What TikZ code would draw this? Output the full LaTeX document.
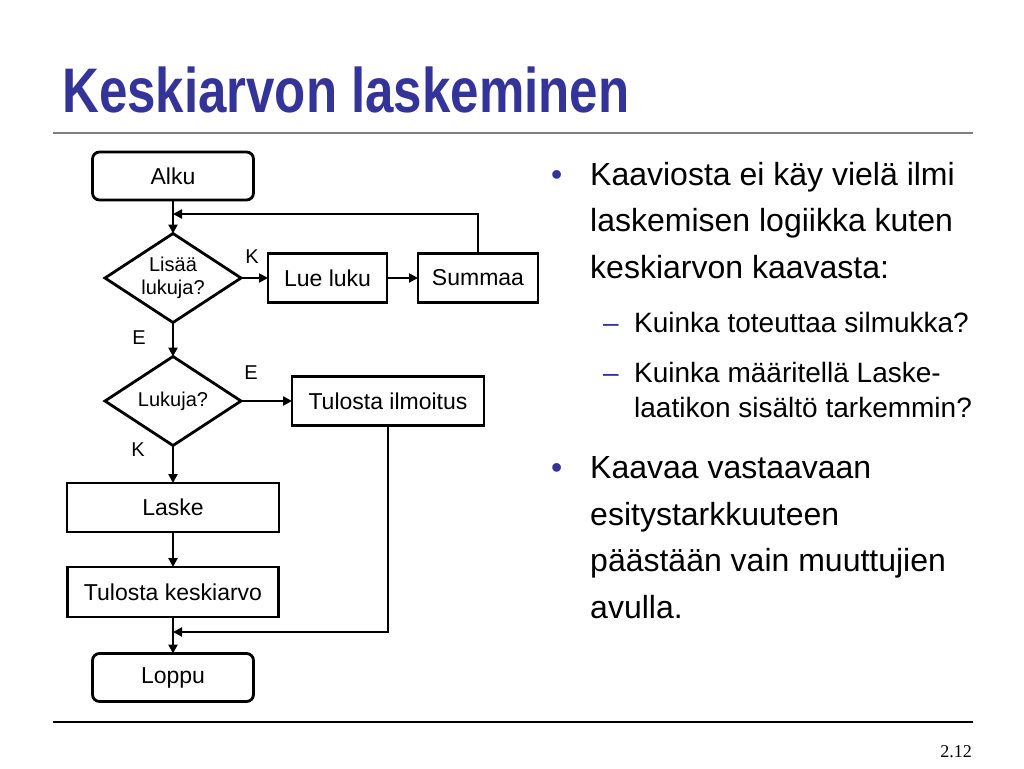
\documentclass[tikz,border=0pt]{standalone}
\usepackage{fontspec}
\setmainfont{Liberation Sans}
\newfontfamily\otsikkofont[FakeStretch=0.81]{Liberation Sans}
\newfontfamily\sivufont{Liberation Serif}
\usetikzlibrary{shapes.geometric, arrows.meta, positioning}
\definecolor{otsikkosini}{RGB}{51,51,153}
\definecolor{viivaharmaa}{RGB}{128,128,128}

\begin{document}
\begin{tikzpicture}[
    x=1pt, y=-1pt,
    terminal/.style={rectangle, draw=black, line width=2.8pt, rounded corners=7pt, minimum width=161pt, minimum height=48pt, inner sep=0pt, outer sep=0pt, font=\fontsize{23}{26}\selectfont},
    process/.style={rectangle, draw=black, line width=2.8pt, minimum height=49pt, inner sep=0pt, outer sep=0pt, font=\fontsize{23}{26}\selectfont},
    decision/.style={diamond, draw=black, line width=2.8pt, aspect=1.5, minimum width=136pt, minimum height=89pt, inner sep=0pt, outer sep=0pt, align=center, font=\fontsize{20}{23}\selectfont},
    arrow/.style={draw=black, line width=2.6pt, -{Triangle[length=9pt, width=9pt]}},
    choice/.style={inner sep=0pt, font=\fontsize{20}{24}\selectfont},
    bullettext/.style={anchor=base west, align=left, inner sep=0pt, font=\fontsize{32}{46.5}\selectfont},
    subtext/.style={anchor=base west, align=left, inner sep=0pt, font=\fontsize{28}{35}\selectfont}
]

    % --- Slide ---
    \fill[white] (0,0) rectangle (1024,768);
    \node [anchor=base west, inner sep=0pt, text=otsikkosini, font=\otsikkofont\bfseries\fontsize{63}{70}\selectfont] (otsikko) at (62,112) {Keskiarvon laskeminen};
    \draw [viivaharmaa, line width=2pt] (53,133) -- (973,133);
    \draw [black, line width=1.5pt] (53,722) -- (973,722);
    \node [anchor=base east, inner sep=0pt, font=\sivufont\fontsize{18}{20}\selectfont] (sivu) at (972,757) {2.12};

    % --- Flowchart ---
    \node [terminal] (alku) at (173,176) {Alku};
    \node [decision] (lisaa) at (173,278) {Lisää\\lukuja?};
    \node [process, minimum width=119pt] (lue) at (327.5,278) {Lue luku};
    \node [process, minimum width=120pt] (summaa) at (478,278) {Summaa};
    \node [decision] (lukuja) at (173,401) {Lukuja?};
    \node [process, minimum width=192pt] (ilmoitus) at (388,401) {Tulosta ilmoitus};
    \node [process, minimum width=212pt] (laske) at (173,507.5) {Laske};
    \node [process, minimum width=211pt, minimum height=50pt] (keskiarvo) at (173,592) {Tulosta keskiarvo};
    \node [terminal] (loppu) at (173,677.5) {Loppu};

    % Branch labels
    \node [choice] (k1) at (252,257) {K};
    \node [choice] (e1) at (139,338) {E};
    \node [choice] (e2) at (251,373) {E};
    \node [choice] (k2) at (138,450) {K};

    % --- Connections ---
    \coordinate (silmukka) at (173,214);
    \coordinate (yhdiste) at (173,632);
    \path [arrow] (alku) -- (lisaa);
    \path [arrow] (lisaa) -- (lue);
    \path [arrow] (lue) -- (summaa);
    \path [arrow] (summaa.north) |- (silmukka);
    \path [arrow] (lisaa) -- (lukuja);
    \path [arrow] (lukuja) -- (ilmoitus);
    \path [arrow] (lukuja) -- (laske);
    \path [arrow] (laske) -- (keskiarvo);
    \path [arrow] (keskiarvo) -- (loppu);
    \path [arrow] (ilmoitus.south) |- (yhdiste);

    % --- Bullets (base = last line) ---
    \node [bullettext, text=otsikkosini] (piste1) at (551,185) {•};
    \node [bullettext] (kohta1) at (590,278) {Kaaviosta ei käy vielä ilmi\\laskemisen logiikka kuten\\keskiarvon kaavasta:};
    \node [subtext, text=otsikkosini] (viiva1) at (603,332) {–};
    \node [subtext] (ala1) at (634,332) {Kuinka toteuttaa silmukka?};
    \node [subtext, text=otsikkosini] (viiva2) at (603,382) {–};
    \node [subtext] (ala2) at (634,417) {Kuinka määritellä Laske-\\laatikon sisältö tarkemmin?};
    \node [bullettext, text=otsikkosini] (piste2) at (551,478) {•};
    \node [bullettext] (kohta2) at (590,618) {Kaavaa vastaavaan\\esitystarkkuuteen\\päästään vain muuttujien\\avulla.};

\end{tikzpicture}
\end{document}
